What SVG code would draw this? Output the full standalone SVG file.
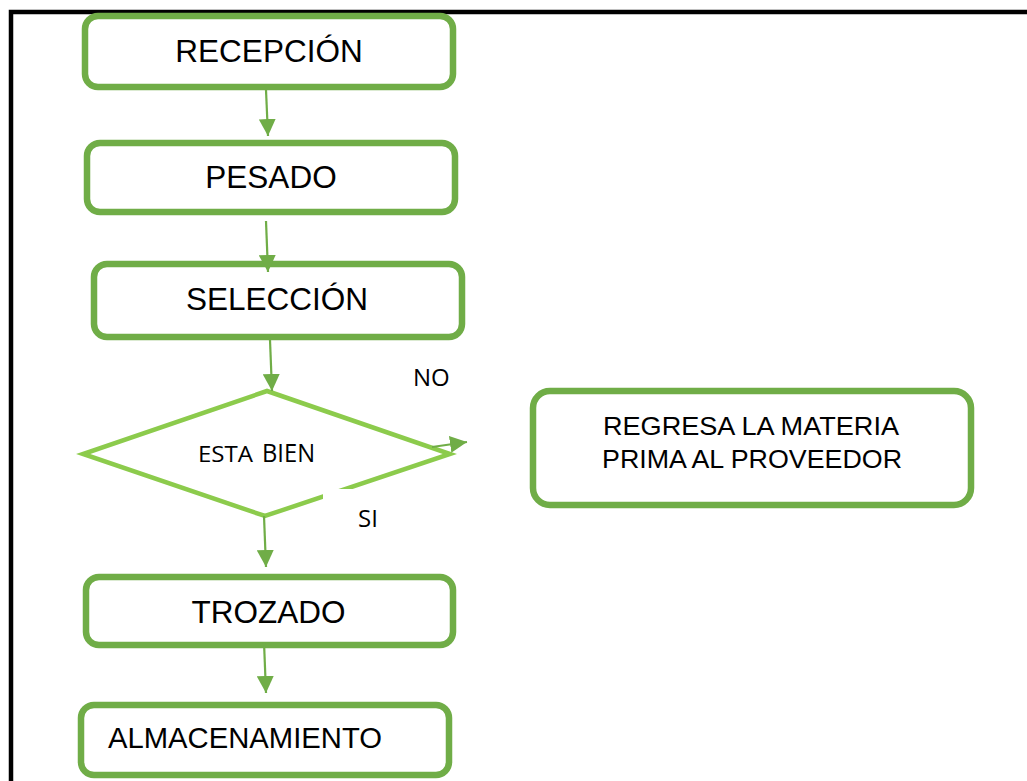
<svg xmlns="http://www.w3.org/2000/svg" width="1027" height="781" viewBox="0 0 1027 781">
<style>
.box{fill:#fff;stroke:#70AD47;stroke-width:6.5}
.dia{fill:#fff;stroke:#8CCB4C;stroke-width:4.5}
.t{font-family:"Liberation Sans",Arial,sans-serif;fill:#000}
.c{font-family:"Open Sans","Liberation Sans",sans-serif;fill:#000}
.con{stroke:#70AD47;stroke-width:2.2;fill:none}
</style>
<defs>
<marker id="ah" markerUnits="userSpaceOnUse" markerWidth="17" markerHeight="17" viewBox="0 0 16 16" refX="16" refY="8" orient="auto">
<path d="M0,0 L16,8 L0,16 Z" fill="#70AD47"/>
</marker>
</defs>
<rect x="0" y="0" width="1027" height="781" fill="#fff"/>
<path d="M11,781 V12 H1027" fill="none" stroke="#000" stroke-width="4.5"/>

<g id="recepcion">
<rect class="box" x="85" y="16" width="368" height="71" rx="13"/>
<text class="t" x="269" y="62" font-size="31.5" text-anchor="middle">RECEPCIÓN</text>
</g>
<g id="pesado">
<rect class="box" x="87" y="143" width="368" height="69" rx="13"/>
<text class="t" x="271" y="188" font-size="31.5" text-anchor="middle">PESADO</text>
</g>
<g id="seleccion">
<rect class="box" x="94" y="264" width="368" height="73" rx="13"/>
<text class="t" x="277" y="310" font-size="31.5" text-anchor="middle">SELECCIÓN</text>
</g>
<g id="decision">
<polygon class="dia" points="267,391 450,454 265,516 83,454"/>
<text class="c" x="198" y="462" font-size="21" textLength="55" lengthAdjust="spacingAndGlyphs">ESTA</text>
<text class="c" x="262" y="462" font-size="25" textLength="53" lengthAdjust="spacingAndGlyphs">BIEN</text>
</g>
<g id="regresa">
<rect class="box" x="533" y="391" width="438" height="114" rx="17"/>
<text class="t" x="603" y="435" font-size="25.5" textLength="296" lengthAdjust="spacingAndGlyphs">REGRESA LA MATERIA</text>
<text class="t" x="602" y="468" font-size="25.5" textLength="300" lengthAdjust="spacingAndGlyphs">PRIMA AL PROVEEDOR</text>
</g>
<g id="trozado">
<rect class="box" x="86" y="577" width="367" height="68" rx="13"/>
<text class="t" x="268.5" y="623" font-size="31.5" text-anchor="middle">TROZADO</text>
</g>
<g id="almacenamiento">
<rect class="box" x="81" y="705" width="368" height="70" rx="13"/>
<text class="t" x="108" y="748" font-size="29" textLength="274" lengthAdjust="spacingAndGlyphs">ALMACENAMIENTO</text>
</g>

<g id="connectors">
<line class="con" x1="266" y1="90" x2="268" y2="136" marker-end="url(#ah)"/>
<line class="con" x1="266" y1="221" x2="268" y2="272" marker-end="url(#ah)"/>
<line class="con" x1="270" y1="340" x2="272" y2="391" marker-end="url(#ah)"/>
<line class="con" x1="264" y1="516" x2="266" y2="567" marker-end="url(#ah)"/>
<line class="con" x1="264" y1="642" x2="266" y2="693" marker-end="url(#ah)"/>
<line class="con" x1="432" y1="447" x2="467" y2="442" marker-end="url(#ah)"/>
</g>

<g id="labels">
<text class="c" x="413" y="386" font-size="24">NO</text>
<rect x="323" y="489" width="80" height="45" fill="#fff"/>
<text class="c" x="358" y="527" font-size="24">SI</text>
</g>
</svg>
